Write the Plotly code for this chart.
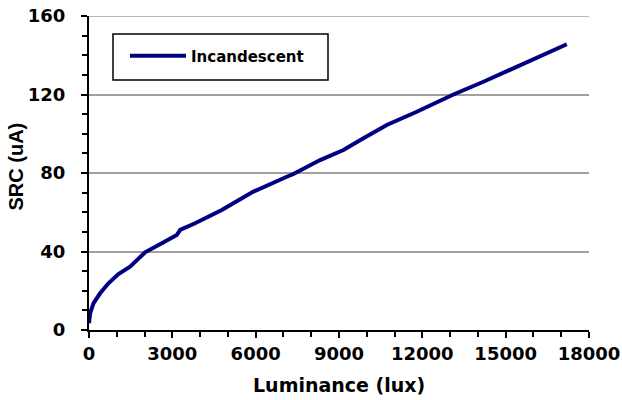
import plotly.graph_objects as go

lux = [0, 40, 160, 400, 700, 1060, 1480, 2020, 2620, 3160, 3280, 3820, 4780, 5920,
       7120, 7360, 8320, 9160, 9880, 10720, 11800, 13120, 14200, 15400, 17200]
src = [3.4, 8.5, 13.6, 18.7, 23.8, 28.5, 32.3, 39.6, 44.2, 48.4, 51.0, 54.4, 61.1, 70.5,
       78.1, 79.5, 86.6, 91.7, 97.7, 104.5, 111.2, 120.0, 126.5, 134.2, 145.6]
series_name = "Incandescent"
x_ticks = [0, 3000, 6000, 9000, 12000, 15000, 18000]
y_ticks = [0, 40, 80, 120, 160]

wide = "DejaVu Sans, sans-serif"
arial = "Liberation Sans, Arial, sans-serif"

# body margin removed via post_script; plot area in window: x 89..589, y 16..330
W, H = 622, 400
L, T = 89, 16
PW, PH = 500, 314
R = W - L - PW
B = H - T - PH

def px(xw):
    return (xw - 89) / PW

def py(yw):
    return (330 - yw) / PH

fig = go.Figure()
fig.add_trace(go.Scatter(x=lux, y=src, mode="lines", name=series_name,
                         line=dict(color="#000080", width=4)))

fig.update_layout(
    width=W, height=H,
    margin=dict(l=L, r=R, t=T, b=B, autoexpand=False),
    paper_bgcolor="white", plot_bgcolor="white",
    font=dict(family=wide, color="black"),
    showlegend=True,
    legend=dict(x=px(125), y=py(56), xanchor="left", yanchor="middle",
                bgcolor="rgba(0,0,0,0)", borderwidth=0,
                font=dict(family=wide, size=15, color="black", weight="bold"),
                itemwidth=56),
    shapes=[dict(type="rect", xref="paper", yref="paper",
                 x0=px(113), x1=px(328), y0=py(80), y1=py(34),
                 line=dict(color="black", width=1.5), fillcolor="rgba(0,0,0,0)"),
            dict(type="line", xref="paper", yref="y", x0=0, x1=1, y0=y_ticks[-1], y1=y_ticks[-1],
                 line=dict(color="#a0a0a0", width=1.5), layer="below")],
    annotations=[dict(text="SRC (uA)", xref="paper", yref="paper", x=px(16), y=py(166.5),
                      xanchor="center", yanchor="middle", textangle=-90, showarrow=False,
                      font=dict(family=arial, size=20, color="black", weight="bold")),
                 dict(text="Luminance (lux)", xref="paper", yref="paper", x=px(338.5), y=py(385),
                      xanchor="center", yanchor="middle", showarrow=False,
                      font=dict(family=wide, size=19, color="black", weight="bold"))],
)

fig.update_xaxes(
    range=[0, 18000], tickvals=x_ticks, ticktext=[str(v) for v in x_ticks],
    automargin=False, ticklabeloverflow="allow",
    showline=True, linecolor="black", linewidth=2,
    ticks="outside", ticklen=6, tickwidth=2, tickcolor="black",
    minor=dict(dtick=1000, ticks="outside", ticklen=5, tickwidth=1.5, tickcolor="black", showgrid=False),
    showgrid=False, zeroline=False,
    tickfont=dict(family=wide, size=18, color="black", weight="bold"),
)
fig.update_yaxes(
    range=[0, 160], tickvals=y_ticks, ticktext=[str(v) for v in y_ticks],
    automargin=False, ticklabeloverflow="allow",
    showline=True, linecolor="black", linewidth=2,
    ticks="outside", ticklen=6, tickwidth=2, tickcolor="black",
    minor=dict(dtick=10, ticks="outside", ticklen=5, tickwidth=1.5, tickcolor="black", showgrid=False),
    showgrid=True, gridcolor="#a0a0a0", gridwidth=1.5, zeroline=False,
    tickfont=dict(family=wide, size=18, color="black", weight="bold"),
    ticklabelstandoff=12,
)

fig.write_html("out.html", config={"displayModeBar": False},
               post_script="document.body.style.margin='0';")
